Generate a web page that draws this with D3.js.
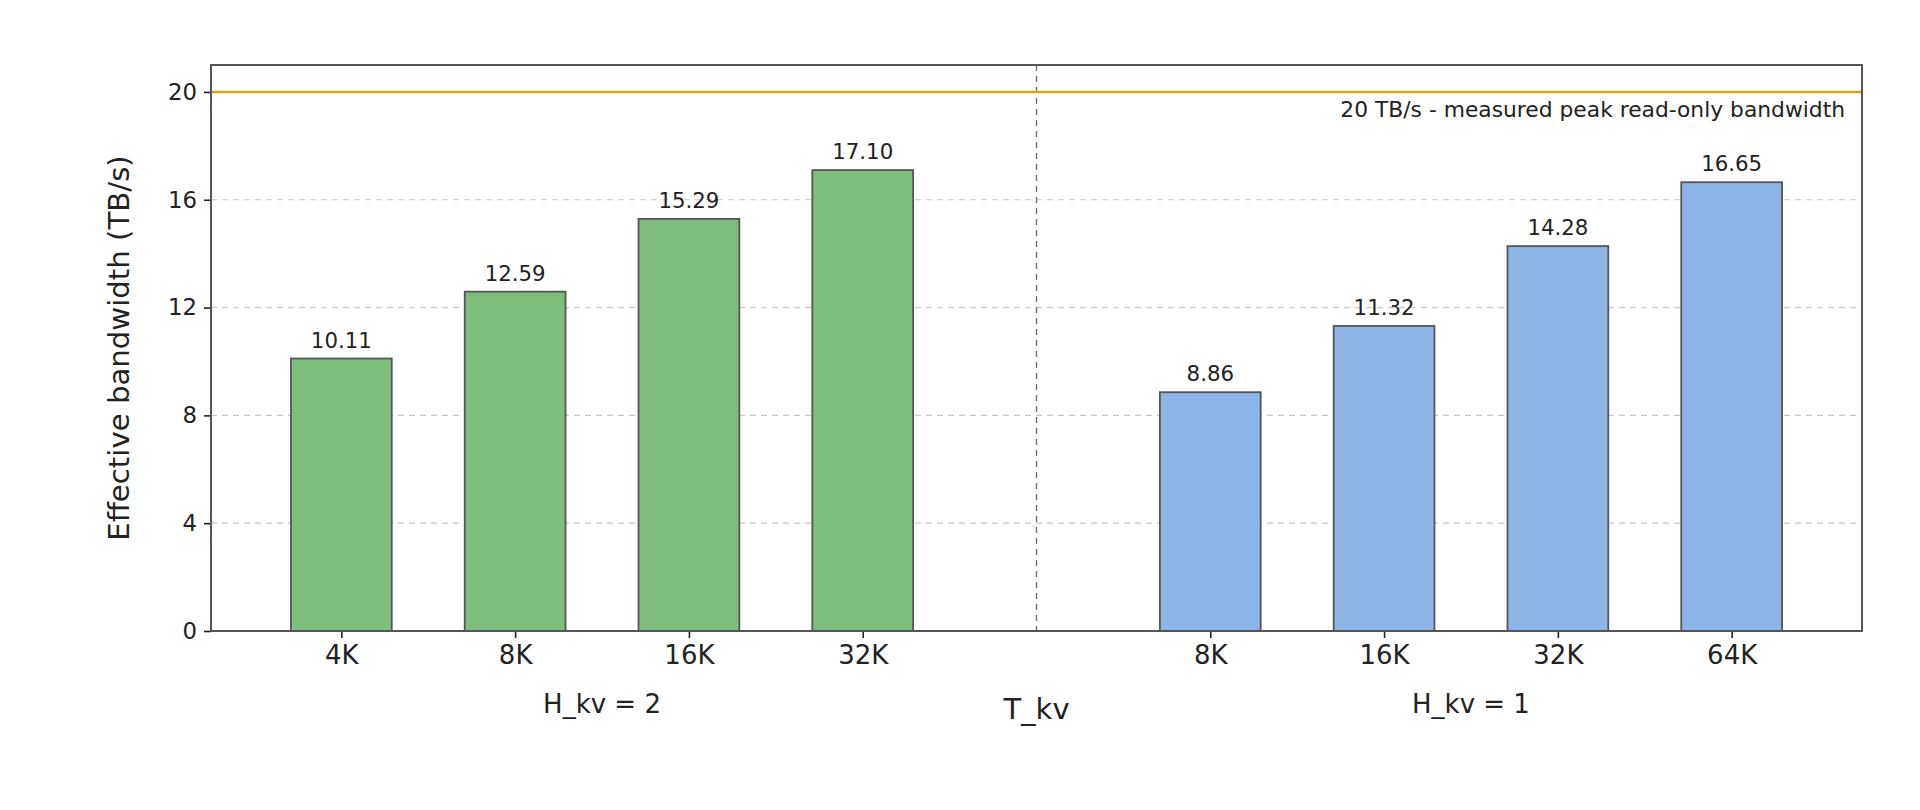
<!DOCTYPE html>
<html>
<head>
<meta charset="utf-8">
<script src="https://cdn.jsdelivr.net/npm/d3@7"></script>
<style>
  body { margin: 0; background: #fff; }
  text { font-family: "DejaVu Sans", sans-serif; fill: #222; }
</style>
</head>
<body>
<div id="chart-area"></div>
<script>
// data
const groupNames = ["H_kv = 2", "H_kv = 1"];
const catsH2 = ["4K", "8K", "16K", "32K"];
const valsH2 = [10.11, 12.59, 15.29, 17.10];
const catsH1 = ["8K", "16K", "32K", "64K"];
const valsH1 = [8.86, 11.32, 14.28, 16.65];
const yTicks = [0, 4, 8, 12, 16, 20];
const peak = 20;
const peakLabel = "20 TB/s - measured peak read-only bandwidth";

// margins
const margin = { left: 211, right: 58, top: 65, bottom: 179 };
const W = 1920, H = 810;
const width = W - margin.left - margin.right;
const height = H - margin.top - margin.bottom;

const svg = d3.select("#chart-area")
  .append("svg")
    .attr("width", W)
    .attr("height", H);
const g = svg.append("g")
  .attr("transform", "translate(" + margin.left + "," + margin.top + ")");

// build bar rows: slot 4 is the gap between groups
const bars = [];
catsH2.forEach(function(c, i) { bars.push({ cat: c, value: valsH2[i], pos: i, group: 0 }); });
catsH1.forEach(function(c, i) { bars.push({ cat: c, value: valsH1[i], pos: i + 5, group: 1 }); });

const x = d3.scaleLinear().domain([-0.75, 8.75]).range([0, width]);
const y = d3.scaleLinear().domain([0, 21]).range([height, 0]);
const barW = 0.58;
const colors = ["#7dbe7d", "#8db5e8"];

// grid
g.selectAll(".grid")
  .data(yTicks.filter(function(d) { return d > 0 && d < peak; }))
  .enter().append("line")
    .attr("x1", 0).attr("x2", width)
    .attr("y1", function(d) { return y(d); })
    .attr("y2", function(d) { return y(d); })
    .attr("stroke", "#c8c8c8")
    .attr("stroke-width", 1.2)
    .attr("stroke-dasharray", "6,5");

// divider between groups
g.append("line")
  .attr("x1", x(4)).attr("x2", x(4))
  .attr("y1", 0).attr("y2", height)
  .attr("stroke", "#666")
  .attr("stroke-width", 1.3)
  .attr("stroke-dasharray", "6,5");

// peak line
g.append("line")
  .attr("x1", 0).attr("x2", width)
  .attr("y1", y(peak)).attr("y2", y(peak))
  .attr("stroke", "#d4a514")
  .attr("stroke-width", 2.5);
g.append("text")
  .attr("x", width - 17)
  .attr("y", y(peak) + 25)
  .attr("text-anchor", "end")
  .attr("font-size", "21.8px")
  .text(peakLabel);

// bars
g.selectAll(".bar")
  .data(bars)
  .enter().append("rect")
    .attr("x", function(d) { return x(d.pos - barW / 2); })
    .attr("width", x(barW) - x(0))
    .attr("y", function(d) { return y(d.value); })
    .attr("height", function(d) { return y(0) - y(d.value); })
    .attr("fill", function(d) { return colors[d.group]; })
    .attr("stroke", "#555")
    .attr("stroke-width", 1.8);

// value labels
g.selectAll(".val")
  .data(bars)
  .enter().append("text")
    .attr("x", function(d) { return x(d.pos); })
    .attr("y", function(d) { return y(d.value) - 11; })
    .attr("text-anchor", "middle")
    .attr("font-size", "21.3px")
    .text(function(d) { return d.value.toFixed(2); });

// axes
const yAxisCall = d3.axisLeft(y).tickValues(yTicks).tickSize(7).tickPadding(7);
const yAxis = g.append("g").call(yAxisCall);
yAxis.select(".domain").remove();
yAxis.selectAll(".tick line").attr("stroke", "#222").attr("stroke-width", 1.6);
yAxis.selectAll(".tick text").attr("font-size", "22.8px").attr("font-family", "DejaVu Sans").attr("fill", "#222");

const xAxisCall = d3.axisBottom(x)
  .tickValues(bars.map(function(d) { return d.pos; }))
  .tickFormat(function(p) { return bars.find(function(d) { return d.pos === p; }).cat; })
  .tickSize(7).tickPadding(8);
const xAxis = g.append("g")
  .attr("transform", "translate(0," + height + ")")
  .call(xAxisCall);
xAxis.select(".domain").remove();
xAxis.selectAll(".tick line").attr("stroke", "#222").attr("stroke-width", 1.6);
xAxis.selectAll(".tick text").attr("font-size", "26px").attr("font-family", "DejaVu Sans").attr("fill", "#222");

// frame
g.append("rect")
  .attr("x", 0).attr("y", 0)
  .attr("width", width).attr("height", height)
  .attr("fill", "none")
  .attr("stroke", "#555")
  .attr("stroke-width", 2);

// group labels
groupNames.forEach(function(name, i) {
  g.append("text")
    .attr("x", x(i === 0 ? 1.5 : 6.5))
    .attr("y", height + 82)
    .attr("text-anchor", "middle")
    .attr("font-size", "26px")
    .text(name);
});

// axis labels
g.append("text")
  .attr("x", x(4))
  .attr("y", height + 88)
  .attr("text-anchor", "middle")
  .attr("font-size", "29px")
  .text("T_kv");

g.append("text")
  .attr("transform", "translate(" + (-82) + "," + (height / 2) + ") rotate(-90)")
  .attr("text-anchor", "middle")
  .attr("font-size", "29.2px")
  .text("Effective bandwidth (TB/s)");
</script>
</body>
</html>
